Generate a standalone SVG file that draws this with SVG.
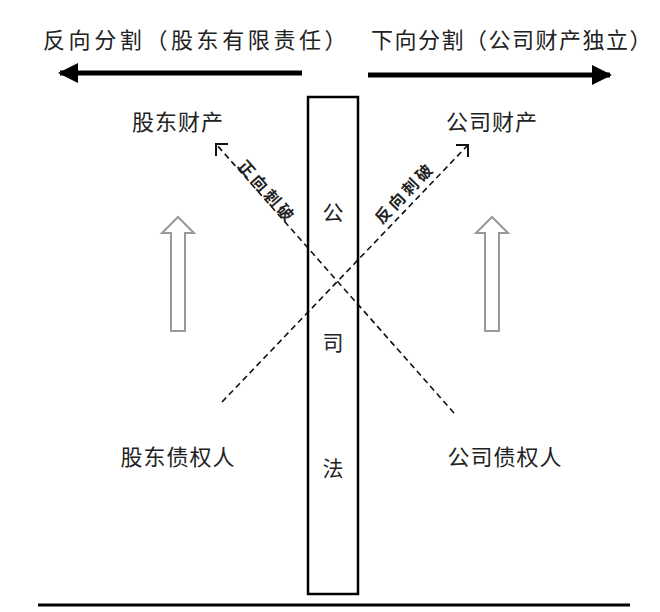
<svg xmlns="http://www.w3.org/2000/svg" width="660" height="612" viewBox="0 0 660 612">
<defs>
<style>
.t{font-family:"Noto Sans CJK SC","Noto Sans",sans-serif;fill:#222;}
.title{font-size:22px;}
.lab{font-size:22px;text-anchor:middle;}
.law{font-size:21px;text-anchor:middle;}
.pierce{font-size:16px;font-weight:bold;text-anchor:middle;dominant-baseline:central;letter-spacing:3.5px;}
.dash{stroke:#111;stroke-width:1.6;stroke-dasharray:6 4;fill:none;}
.chev{stroke:#111;stroke-width:2;fill:none;}
.block{fill:#fff;stroke:#999;stroke-width:2;}
</style>
<marker id="fill" viewBox="0 0 10 10" refX="9" refY="5" markerWidth="4" markerHeight="4" orient="auto-start-reverse" markerUnits="strokeWidth">
<path d="M0,0 L10,5 L0,10 Z" fill="#000"/>
</marker>
</defs>
<rect width="660" height="612" fill="#fff"/>
<g id="titles">
<text class="t title" x="43" y="48" letter-spacing="3.6">反向分割（股东有限责任）</text>
<text class="t title" x="371" y="48" letter-spacing="1.5">下向分割（公司财产独立）</text>
</g>
<g id="connectors">
<line x1="302" y1="73" x2="60" y2="73" stroke="#000" stroke-width="5" marker-end="url(#fill)"/>
<line x1="368" y1="75" x2="610" y2="75" stroke="#000" stroke-width="5" marker-end="url(#fill)"/>
<line class="dash" x1="454" y1="413" x2="216" y2="144"/>
<path class="chev" d="M216,156 L216,144 L228,144"/>
<line class="dash" x1="222" y1="402" x2="468" y2="145"/>
<path class="chev" d="M456,145 L468,145 L468,157"/>
</g>
<g id="law">
<rect x="308" y="97" width="50" height="497" fill="none" stroke="#000" stroke-width="2.5"/>
<text class="t law" x="333" y="220">公</text>
<text class="t law" x="333" y="350">司</text>
<text class="t law" x="333" y="476">法</text>
</g>
<g id="shareholder-property"><text class="t lab" x="178" y="130" letter-spacing="1">股东财产</text></g>
<g id="company-property"><text class="t lab" x="492" y="130" letter-spacing="1">公司财产</text></g>
<g id="shareholder-creditor"><text class="t lab" x="178" y="465" letter-spacing="1">股东债权人</text></g>
<g id="company-creditor"><text class="t lab" x="505" y="465" letter-spacing="1">公司债权人</text></g>
<g id="labels">
<text class="t pierce" transform="translate(268,191) rotate(48.5)">正向刺破</text>
<text class="t pierce" transform="translate(404,192) rotate(-46.2)">反向刺破</text>
</g>
<g id="block-arrows">
<path class="block" d="M178,217 L194,233 L185,233 L185,331 L171,331 L171,233 L162,233 Z"/>
<path class="block" d="M492,217 L508,233 L499,233 L499,331 L485,331 L485,233 L476,233 Z"/>
</g>
<g id="ground"><line x1="38" y1="605" x2="630" y2="605" stroke="#000" stroke-width="3"/></g>
</svg>
